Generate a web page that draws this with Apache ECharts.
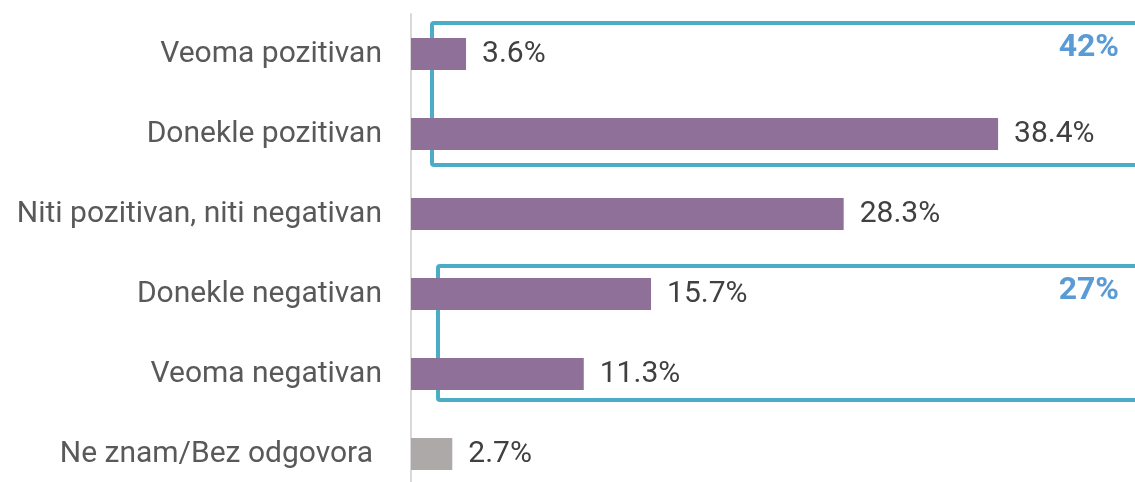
<!DOCTYPE html>
<html lang="sr">

<head>
  <meta charset="utf-8">
  <title>Stav - horizontalni stubici</title>
  <script src="https://cdn.jsdelivr.net/npm/echarts@6/dist/echarts.min.js"></script>
  <style>
    html, body { margin: 0; padding: 0; background: #fff; }
    #main { width: 1135px; height: 482px; }
  </style>
</head>

<body>
  <div id="main"></div>
  <script>
    // kategorije (odozgo nadole) i procenti
    var categories = ['Veoma pozitivan', 'Donekle pozitivan', 'Niti pozitivan, niti negativan',
      'Donekle negativan', 'Veoma negativan', 'Ne znam/Bez odgovora'];
    var values = [3.6, 38.4, 28.3, 15.7, 11.3, 2.7];
    // grupe koje se uokviruju (indeksi kategorija)
    var groups = [[0, 1], [3, 4]];

    var barColor = '#8E7098';
    var greyColor = '#ADA9A9';
    var boxColor = '#4BACC6';
    var fontFam = 'Roboto, "Open Sans", sans-serif';

    var myChart = echarts.init(document.getElementById('main'));

    var option = {
      animation: false,
      grid: {
        left: 411,
        top: 14,
        width: 688,
        height: 480,
        outerBoundsMode: 'none'
      },
      xAxis: {
        type: 'value',
        min: 0,
        max: 45,
        show: false
      },
      yAxis: {
        type: 'category',
        inverse: true,
        data: categories,
        axisLine: { show: true, lineStyle: { color: '#D9D9D9', width: 2 } },
        axisTick: { show: false },
        axisLabel: {
          margin: 29,
          color: '#595959',
          fontSize: 30,
          fontFamily: fontFam,
          // poslednja kategorija je malo uvučena
          formatter: function(value, index) {
            return index === categories.length - 1 ? '{s|' + value + '}' : value;
          },
          rich: {
            s: { fontSize: 30, fontFamily: fontFam, color: '#595959', padding: [0, 9, 0, 0] }
          }
        }
      },
      series: [{
        type: 'bar',
        barWidth: 32,
        data: values.map(function(v, i) {
          return {
            value: v,
            itemStyle: { color: i === values.length - 1 ? greyColor : barColor }
          };
        }),
        label: {
          show: true,
          position: 'right',
          distance: 16,
          color: '#404040',
          fontSize: 30,
          fontFamily: fontFam,
          formatter: function(p) { return p.value.toFixed(1) + '%'; }
        }
      }]
    };

    myChart.setOption(option);

    // okviri oko grupa + zbirni procenti
    var insetX = [21, 27];
    var padTop = [31, 28];
    var padBot = [31, 26];
    var graphics = [];
    groups.forEach(function(g, k) {
      var yTop = myChart.convertToPixel({ yAxisIndex: 0 }, categories[g[0]]) - padTop[k];
      var yBot = myChart.convertToPixel({ yAxisIndex: 0 }, categories[g[g.length - 1]]) + padBot[k];
      var x0 = myChart.convertToPixel({ xAxisIndex: 0 }, 0) + insetX[k];
      var sum = 0;
      g.forEach(function(i) { sum += values[i]; });
      graphics.push({
        type: 'rect',
        shape: { x: x0, y: yTop, width: 1160 - x0, height: yBot - yTop, r: 2 },
        style: { fill: 'none', stroke: boxColor, lineWidth: 4 }
      });
      graphics.push({
        type: 'text',
        x: 1119,
        y: yTop + 25,
        style: {
          text: Math.round(sum) + '%',
          fill: '#5B9BD5',
          font: 'bold 32px ' + fontFam,
          textAlign: 'right',
          textVerticalAlign: 'middle'
        }
      });
    });
    myChart.setOption({ graphic: graphics });
  </script>
</body>

</html>
